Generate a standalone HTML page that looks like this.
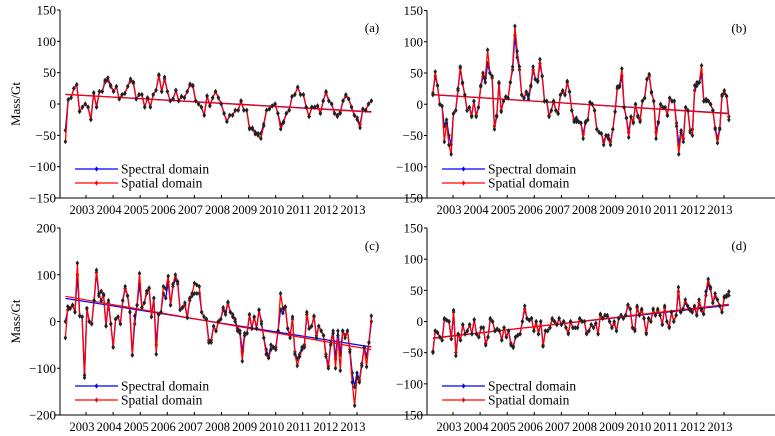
<!DOCTYPE html>
<html><head><meta charset="utf-8"><style>
body{margin:0;background:#fff;}
svg{display:block;}
svg text{font-family:"Liberation Serif","DejaVu Serif","Times New Roman",serif;}
</style></head><body>
<svg id="chart" width="775" height="436" viewBox="0 0 775 436"></svg>
<script>
// Panel (a)
const specA=[-42,7,10,25,31,-12,-5,0,-5,-25,18,-5,20,20,35,38,28,20,28,8,15,17,28,37,33,8,15,15,-5,10,-5,15,22,45,20,40,20,5,8,22,5,12,10,20,30,28,5,0,-5,-18,13,-3,10,20,10,0,-15,-28,-18,-18,-10,-10,5,-10,-10,-38,-38,-45,-47,-47,-32,-10,-8,-3,0,-15,-33,-28,-15,-10,12,15,27,15,15,-5,-20,-5,-5,-3,-15,5,18,5,0,-15,-18,-13,5,13,8,-5,-18,-22,-33,-8,-10,0,5];
const spatA=[-60,7,10,25,31,-12,-5,0,-5,-25,18,-5,20,20,38,42,30,20,28,8,15,17,28,40,35,8,15,15,-5,10,-5,15,22,47,20,43,20,5,8,22,5,12,10,20,32,30,5,0,-5,-18,13,-3,10,20,10,0,-15,-28,-18,-18,-10,-10,5,-10,-10,-40,-40,-48,-50,-55,-35,-10,-8,-3,0,-15,-40,-30,-15,-10,12,15,27,15,15,-5,-20,-5,-5,-3,-15,5,20,5,0,-15,-20,-15,5,15,8,-5,-18,-25,-38,-8,-10,0,5];
// Panel (b)
const specB=[18,45,30,0,-3,-35,-25,-50,-65,-15,-10,22,58,33,15,-10,-5,-18,5,-18,-5,28,45,35,65,50,42,-35,-18,33,-10,5,12,10,35,55,110,75,55,15,10,18,8,28,55,40,36,65,45,5,5,-18,-10,5,-10,-15,15,20,15,35,20,-10,-25,-22,-28,-30,-48,-28,-25,3,0,-10,-40,-45,-47,-60,-50,-50,-60,-40,-12,25,28,45,-5,-22,-45,-20,-28,0,-18,-25,5,10,40,45,18,5,-45,-28,0,-5,-5,-18,10,5,5,-30,-65,-42,-55,-5,-10,-42,-40,22,30,35,48,5,5,5,0,-10,-38,-55,-38,13,18,13,-20];
const spatB=[15,52,30,0,-3,-60,-30,-65,-80,-15,-10,25,60,35,15,-10,-5,-20,5,-20,-5,30,50,42,87,50,45,-40,-20,35,-12,5,12,10,35,60,125,85,60,15,10,20,15,30,60,40,38,72,45,5,5,-20,-10,5,-10,-15,15,22,15,37,20,-10,-28,-28,-28,-30,-55,-30,-25,3,0,-10,-40,-45,-47,-65,-50,-55,-65,-40,-12,28,30,57,-5,-22,-53,-20,-30,0,-20,-28,5,10,40,48,20,5,-55,-30,0,-5,-5,-18,10,5,5,-35,-80,-45,-60,-5,-10,-45,-50,30,35,35,62,5,8,5,0,-10,-40,-62,-40,15,22,13,-25];
// Panel (c)
const specC=[0,25,28,35,20,100,12,10,-120,28,0,-5,45,105,55,65,55,-10,40,-5,-55,5,10,-5,45,70,55,20,-72,-5,35,80,30,40,60,70,10,50,-50,15,20,60,50,85,35,75,90,80,25,30,35,8,45,55,60,60,60,20,10,5,-40,-40,-10,-20,0,5,25,15,40,20,15,5,-15,-20,-65,-25,-25,15,-15,10,-15,25,0,-35,-60,-75,-50,-55,-55,-20,25,18,30,-15,-30,5,-65,-80,-70,-55,-50,15,-15,-10,10,-30,-10,-20,-30,-70,-95,-45,-20,-80,-20,-70,-20,-30,-20,-60,-110,-140,-110,-125,-90,-55,-75,-45,0];
const spatC=[-35,32,28,35,20,125,12,10,-115,28,0,-5,45,110,60,45,58,-10,45,-5,-55,5,10,-5,45,75,55,20,-72,12,35,103,30,40,65,72,10,50,-70,15,20,75,70,97,35,80,100,85,25,30,40,8,50,60,82,78,75,20,10,5,-45,-45,-10,-20,0,5,30,20,42,20,10,0,-20,-25,-85,-30,-25,15,-15,10,-15,25,-5,-35,-70,-78,-60,-55,-60,-20,60,28,32,-15,-35,10,-70,-95,-75,-60,-55,20,-15,-10,12,-35,-10,-20,-30,-75,-100,-50,-25,-100,-30,-105,-20,-35,-20,-65,-130,-180,-120,-130,-95,-55,-97,-45,12];
// Panel (d)
const specD=[-48,-15,-18,-25,-30,3,2,0,-28,15,-50,-20,-30,-5,-20,-15,-5,-20,3,-20,-25,-10,-10,-35,-25,3,0,-15,-12,-15,-30,-10,-25,-15,-35,-42,-25,-22,-20,0,20,5,2,5,-15,0,-20,0,-38,-15,-15,-10,3,0,-5,5,-5,0,-10,-18,0,-10,-10,-10,3,0,0,-18,-15,-5,-10,-3,-20,10,5,10,8,0,-10,-3,-15,5,10,5,10,25,20,-10,-12,22,10,18,5,-18,5,0,20,10,18,10,-5,22,0,-8,15,0,10,48,15,20,30,25,18,15,22,10,30,18,12,42,60,52,30,40,35,25,15,38,40,42];
const spatD=[-50,-15,-18,-25,-30,5,2,0,-28,18,-55,-20,-30,-5,-20,-15,-5,-20,3,-20,-25,-10,-10,-38,-25,5,0,-15,-12,-15,-30,-10,-25,-15,-38,-40,-25,-22,-20,0,25,5,2,5,-15,0,-20,0,-40,-15,-15,-10,5,0,-5,5,-5,0,-10,-20,0,-10,-10,-10,5,0,0,-20,-15,-5,-10,-3,-20,12,5,10,10,0,-10,0,-15,5,10,5,10,27,20,-10,-15,25,10,20,5,-20,5,0,20,10,20,10,-5,25,0,-10,15,0,10,55,15,20,35,25,20,15,25,10,35,20,12,48,68,55,30,45,35,25,15,40,42,48];
const years=[2003,2004,2005,2006,2007,2008,2009,2010,2011,2012,2013];
const ticksAB=[150,100,50,0,-50,-100,-150];
const ticksC=[200,100,0,-100,-200];
const ticksD=[150,100,50,0,-50,-100,-150];
const legendLabels=["Spectral domain","Spatial domain"];

const NS="http://www.w3.org/2000/svg";
const svg=document.getElementById('chart');
function mk(tag,attrs,parent){const e=document.createElementNS(NS,tag);for(const k in attrs)e.setAttribute(k,attrs[k]);if(tag==='text')e.style.fontFamily='"Liberation Serif","DejaVu Serif",serif';(parent||svg).appendChild(e);return e;}

const panels=[
 {id:'a',spec:specA,spat:spatA,ticks:ticksAB,ymax:150,ymin:-150,ax:60,top:10,bot:198,x03:86,pyr:27.1,t0:2002.24,t1:2013.53,axL:55,axR:390,ylabel:true,lx:75,ly:169},
 {id:'b',spec:specB,spat:spatB,ticks:ticksAB,ymax:150,ymin:-150,ax:427,top:10.5,bot:198,x03:453,pyr:27.1,t0:2002.26,t1:2013.18,axL:385,axR:775,ylabel:false,lx:442,ly:169},
 {id:'c',spec:specC,spat:spatC,ticks:ticksC,ymax:200,ymin:-200,ax:60,top:228,bot:415,x03:86,pyr:27.1,t0:2002.24,t1:2013.53,axL:55,axR:390,ylabel:true,lx:75,ly:386},
 {id:'d',spec:specD,spat:spatD,ticks:ticksD,ymax:150,ymin:-150,ax:427,top:228,bot:415,x03:453,pyr:27.1,t0:2002.26,t1:2013.18,axL:385,axR:775,ylabel:false,lx:442,ly:386}
];

function reg(ts,vs){const n=vs.length;let st=0,sv=0;for(let i=0;i<n;i++){st+=ts[i];sv+=vs[i];}const mt=st/n,mv=sv/n;let a=0,b=0;for(let i=0;i<n;i++){a+=(ts[i]-mt)*(vs[i]-mv);b+=(ts[i]-mt)**2;}const k=a/b;return t=>mv+k*(t-mt);}

panels.forEach(p=>{
 const g=mk('g',{});
 
 
 const X=t=>p.x03+(t-2003)*p.pyr;
 const Y=v=>p.bot-(v-p.ymin)/(p.ymax-p.ymin)*(p.bot-p.top);
 const ya=mk('line',{x1:p.ax,y1:p.top,x2:p.ax,y2:p.bot,stroke:'#000','stroke-width':1},g);
 
 
 const xa=mk('line',{x1:p.axL,y1:p.bot,x2:p.axR,y2:p.bot,stroke:'#000','stroke-width':1},g);
 
 
 p.ticks.forEach(v=>{
  mk('line',{x1:p.ax-3,y1:Y(v),x2:p.ax,y2:Y(v),stroke:'#000'},g);
  const t=mk('text',{x:p.ax-4,y:Y(v)+4.5,'text-anchor':'end','font-size':13},g);
  t.textContent=(v<0?'\u2212'+(-v):String(v));
  
  
 });
 years.forEach(yr=>{
  mk('line',{x1:X(yr),y1:p.bot,x2:X(yr),y2:p.bot-3,stroke:'#000'},g);
  const t=mk('text',{x:X(yr)-4,y:p.bot+16,'text-anchor':'middle','font-size':13,textLength:25,lengthAdjust:'spacingAndGlyphs'},g);
  t.textContent=String(yr);
  
  
 });
 if(p.ylabel){
  const yl=mk('text',{x:0,y:0,'text-anchor':'middle','font-size':13,transform:`translate(20,${(p.top+p.bot)/2}) rotate(-90)`},g);
  yl.textContent='Mass/Gt';
  
  
 }
 const pl=mk('text',{x:p.ax+312,y:p.top+22,'text-anchor':'middle','font-size':13},g);
 pl.textContent='('+p.id+')';
 
 
 [[p.spec,'#0000ff','spectral'],[p.spat,'#ff0000','spatial']].forEach(([vals,col,nm])=>{
  const n=vals.length;
  const ts=vals.map((_,i)=>p.t0+(p.t1-p.t0)*i/(n-1));
  const f=reg(ts,vals);
  const tl=mk('line',{x1:X(ts[0]),y1:Y(f(ts[0])),x2:X(ts[n-1]),y2:Y(f(ts[n-1])),stroke:col,'stroke-width':1.2},g);
  
  
  const d=vals.map((v,i)=>(i?'L':'M')+X(ts[i]).toFixed(1)+','+Y(v).toFixed(1)).join('');
  const ln=mk('path',{d:d,fill:'none',stroke:col,'stroke-width':1.3},g);
  
  
  vals.forEach((v,i)=>{
   const x=X(ts[i]),y=Y(v);
   const m=mk('path',{d:`M${x},${y-2.6}L${x+1.8},${y}L${x},${y+2.6}L${x-1.8},${y}Z`,fill:'#222'},g);
   
   
  });
 });
 [['#0000ff',legendLabels[0]],['#ff0000',legendLabels[1]]].forEach(([col,lab],i)=>{
  const y=p.ly+i*14;
  const lg=mk('g',{},g);
  
  
  mk('line',{x1:p.lx,y1:y,x2:p.lx+43,y2:y,stroke:col,'stroke-width':1.3},lg);
  const c=p.lx+21.5;
  mk('path',{d:`M${c},${y-2.6}L${c+1.8},${y}L${c},${y+2.6}L${c-1.8},${y}Z`,fill:col},lg);
  const t=mk('text',{x:p.lx+46,y:y+4.5,'font-size':13.5},lg);
  t.textContent=lab;
 });
});
</script>
</body></html>
